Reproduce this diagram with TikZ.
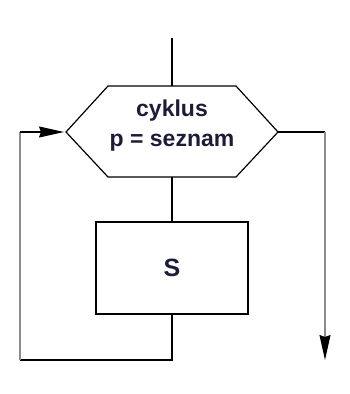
\documentclass[tikz,border=0pt]{standalone}
\usepackage{fontspec}
\setmainfont{Liberation Sans}
\usepackage{tikz}
\usetikzlibrary{arrows.meta}
\definecolor{textnavy}{rgb}{0.11,0.11,0.22}
\definecolor{loopgray}{rgb}{0.55,0.55,0.55}
\tikzset{
	edge/.style={black, line width=1.2pt},
	grayedge/.style={loopgray, line width=1.2pt},
	arrowtip/.style={-{Stealth[length=25pt,width=11pt,inset=2pt,color=black]}},
	cyclabel/.style={text=textnavy, font=\bfseries\fontsize{23}{30}\selectfont, align=center, inner sep=0pt}
}
\begin{document}
		\begin{tikzpicture}[x=1pt,y=-1pt]
			\useasboundingbox (0,0) rectangle (350,394);
			% hexagon corners
			\coordinate (hw) at (66,132);
			\coordinate (htl) at (108,86);
			\coordinate (htr) at (236,86);
			\coordinate (he) at (278,132);
			\coordinate (hbr) at (236,177);
			\coordinate (hbl) at (108,177);
			\coordinate (ht) at (172,86);
			\coordinate (hb) at (172,177);
			\draw [edge] (hw) -- (htl) -- (htr) -- (he) -- (hbr) -- (hbl) -- cycle;
			\node [cyclabel] (cyc) at (172,126) {cyklus\\p = seznam};
			
			\node [draw, edge, minimum width=152pt, minimum height=92pt, inner sep=0pt,
				text=textnavy, font=\bfseries\fontsize{25}{28}\selectfont] (body) at (172,268) {S};
			
			\coordinate (start) at (172,38);
			\coordinate (lb) at (172,360);
			\coordinate (ll) at (20,360);
			\coordinate (lt) at (20,132);
			\coordinate (re) at (325,132);
			\coordinate (rend) at (325,360);
			
			\draw [edge] (start) -- (ht);
			\draw [edge] (hb) -- (body.north);
			\draw [edge] (body.south) -- (lb) -- (ll);
			\draw [grayedge] (ll) -- (lt);
			\draw [edge, arrowtip] (lt) -- ([xshift=-2pt]hw);
			\draw [edge] (he) -- (re);
			\draw [grayedge, arrowtip] (re) -- (rend);
		\end{tikzpicture}
\end{document}
